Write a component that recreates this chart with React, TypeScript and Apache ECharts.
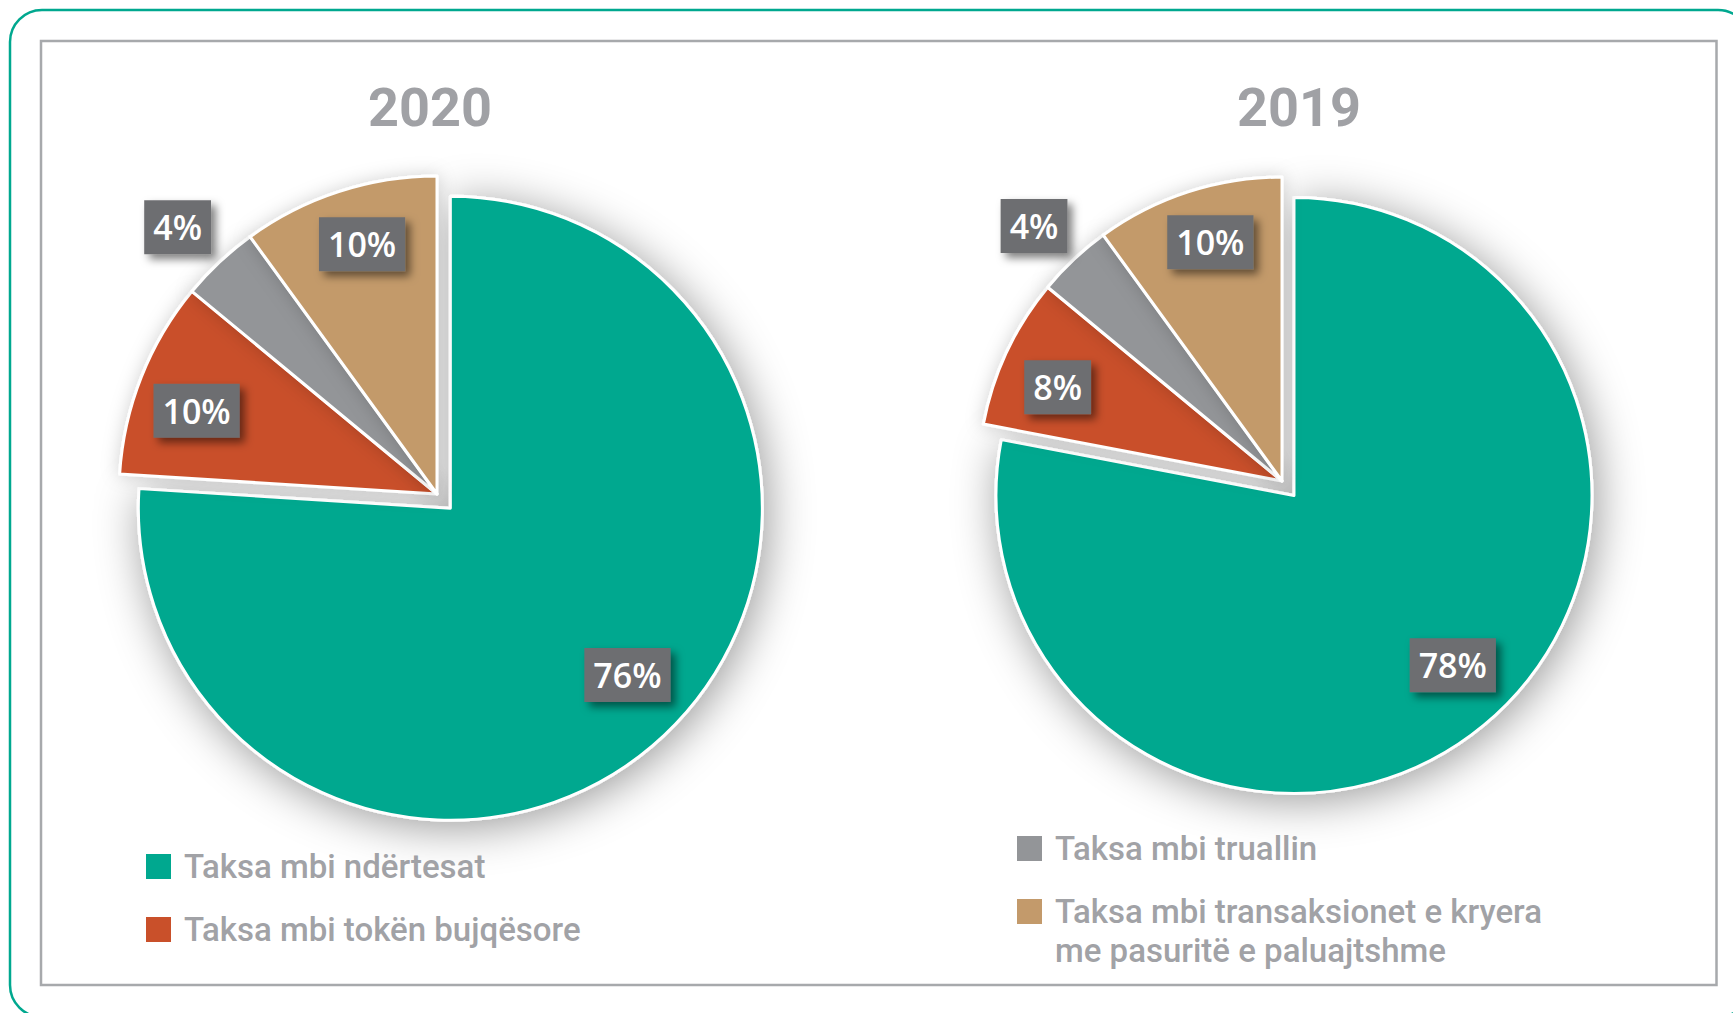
import React, { useEffect, useRef } from 'react';
import * as echarts from 'echarts';

const categories = [
  'Taksa mbi ndërtesat',
  'Taksa mbi tokën bujqësore',
  'Taksa mbi truallin',
  'Taksa mbi transaksionet e kryera me pasuritë e paluajtshme',
];
const years = ['2020', '2019'];
const values2020 = [76, 10, 4, 10];
const values2019 = [78, 8, 4, 10];
const sliceColors = ['#00a88f', '#c9502a', '#939598', '#c39a6b'];

const W = 1733;
const H = 1013;

const pies = [
  { year: years[0], values: values2020, center: [437, 494], rSmall: 318, rMain: 312, offset: 19.5, titleX: 430 },
  { year: years[1], values: values2019, center: [1282, 481], rSmall: 304, rMain: 298, offset: 18.8, titleX: 1299 },
];
const labelRadiusFactor = [0.78, 0.8, 1.17, 0.82];
const labelAngleAdjust = [-3.5, -2.5, -1, 1.3];

function midFraction(vals: number[], idx: number) {
  const total = vals.reduce((a, b) => a + b, 0);
  let cum = 0;
  for (let i = 0; i < idx; i++) cum += vals[i];
  return (cum + vals[idx] / 2) / total;
}

// centre of the exploded first slice, pushed out along its bisector
function mainCenter(pie: any) {
  const bis = midFraction(pie.values, 0) * Math.PI * 2;
  return [pie.center[0] + pie.offset * Math.sin(bis), pie.center[1] - pie.offset * Math.cos(bis)];
}

function labelPos(pie: any, idx: number) {
  const mid = midFraction(pie.values, idx);
  const theta = (mid * 360 + labelAngleAdjust[idx]) * Math.PI / 180;
  const c = idx === 0 ? mainCenter(pie) : pie.center;
  const r = (idx === 0 ? pie.rMain : pie.rSmall) * labelRadiusFactor[idx];
  return { x: c[0] + r * Math.sin(theta), y: c[1] - r * Math.cos(theta) };
}

const legendText = {
  color: '#a1a2a6',
  fontSize: 33,
  fontFamily: 'Roboto',
  fontWeight: 500,
  lineHeight: 37,
  padding: [0, 0, 0, 8],
};

const legendCommon = {
  icon: 'rect',
  itemWidth: 25,
  itemHeight: 25,
  padding: 0,
  selectedMode: false,
  textStyle: legendText,
  formatter: (name: string) =>
    name === categories[3] ? '\n' + name.replace(' me pasuritë', '\nme pasuritë') : name,
};

const legendItem = (i: number) => ({
  name: categories[i],
  itemStyle: { color: sliceColors[i], borderWidth: 0, shadowBlur: 0 },
});

const labelStyle = {
  show: true,
  position: 'inside',
  formatter: '{c}%',
  align: 'center',
  verticalAlign: 'middle',
  color: '#ffffff',
  fontSize: 34,
  fontWeight: 600,
  fontFamily: 'Open Sans',
  lineHeight: 38,
  backgroundColor: '#6d6e71',
  padding: [8, 9],
  shadowColor: 'rgba(0,0,0,0.5)',
  shadowBlur: 8,
  shadowOffsetX: 5,
  shadowOffsetY: 5,
};

const hidden = {
  itemStyle: { color: 'transparent', borderWidth: 0, shadowBlur: 0 },
  label: { show: false },
};

export default function App() {
  const ref = useRef<HTMLDivElement>(null);
  useEffect(() => {
    if (!ref.current) return;
    const chart = echarts.init(ref.current, undefined, { renderer: 'svg' });
    const series: any[] = [];
    pies.forEach((p) => {
      const common = {
        type: 'pie',
        name: p.year,
        startAngle: 90,
        clockwise: true,
        avoidLabelOverlap: false,
        emphasis: { scale: false },
        itemStyle: { borderColor: '#ffffff', borderWidth: 3 },
        labelLine: { show: false },
        label: labelStyle,
        labelLayout: (params: any) => {
          const pos = labelPos(p, params.dataIndex);
          return { x: pos.x, y: pos.y };
        },
      };
      // exploded main slice
      series.push({
        ...common,
        center: mainCenter(p),
        radius: p.rMain,
        data: p.values.map((v, i) =>
          i === 0
            ? {
                name: categories[i],
                value: v,
                itemStyle: {
                  color: sliceColors[i],
                  shadowBlur: 45,
                  shadowColor: 'rgba(0,0,0,0.4)',
                  shadowOffsetX: 4,
                  shadowOffsetY: 6,
                },
              }
            : { name: categories[i], value: v, ...hidden }
        ),
      });
      // remaining slices
      series.push({
        ...common,
        center: p.center,
        radius: p.rSmall,
        data: p.values.map((v, i) =>
          i === 0
            ? { name: categories[i], value: v, ...hidden }
            : {
                name: categories[i],
                value: v,
                itemStyle: { color: sliceColors[i], shadowBlur: 18, shadowColor: 'rgba(0,0,0,0.18)' },
              }
        ),
      });
    });
    chart.setOption({
      animation: false,
      backgroundColor: '#ffffff',
      graphic: [
        {
          type: 'rect',
          silent: true,
          z: -10,
          shape: { x: 10, y: 10, width: 1740, height: 1007, r: 32 },
          style: { fill: 'none', stroke: '#00a88f', lineWidth: 2.5 },
        },
        {
          type: 'rect',
          silent: true,
          z: -10,
          shape: { x: 41, y: 41, width: 1675.5, height: 944 },
          style: { fill: 'none', stroke: '#a7a9ac', lineWidth: 2.5 },
        },
      ],
      title: pies.map((p) => ({
        text: p.year,
        left: p.titleX,
        top: 80,
        padding: 0,
        textAlign: 'center',
        textStyle: {
          fontSize: 54,
          fontWeight: 'bold',
          fontFamily: 'Roboto',
          color: '#a0a1a5',
          lineHeight: 54,
        },
      })),
      legend: [
        { ...legendCommon, data: [legendItem(0), legendItem(1)], orient: 'vertical', left: 146, top: 848, itemGap: 26 },
        { ...legendCommon, data: [legendItem(2)], orient: 'vertical', left: 1017, top: 830 },
        {
          ...legendCommon,
          data: [legendItem(3)],
          orient: 'vertical',
          left: 1017,
          top: 853,
          textStyle: { ...legendText, lineHeight: 39 },
        },
      ],
      series,
    });
    return () => chart.dispose();
  }, []);
  return (
    <div
      ref={ref}
      style={{ position: 'absolute', left: 0, top: 0, width: W, height: H, background: '#fff' }}
    />
  );
}
